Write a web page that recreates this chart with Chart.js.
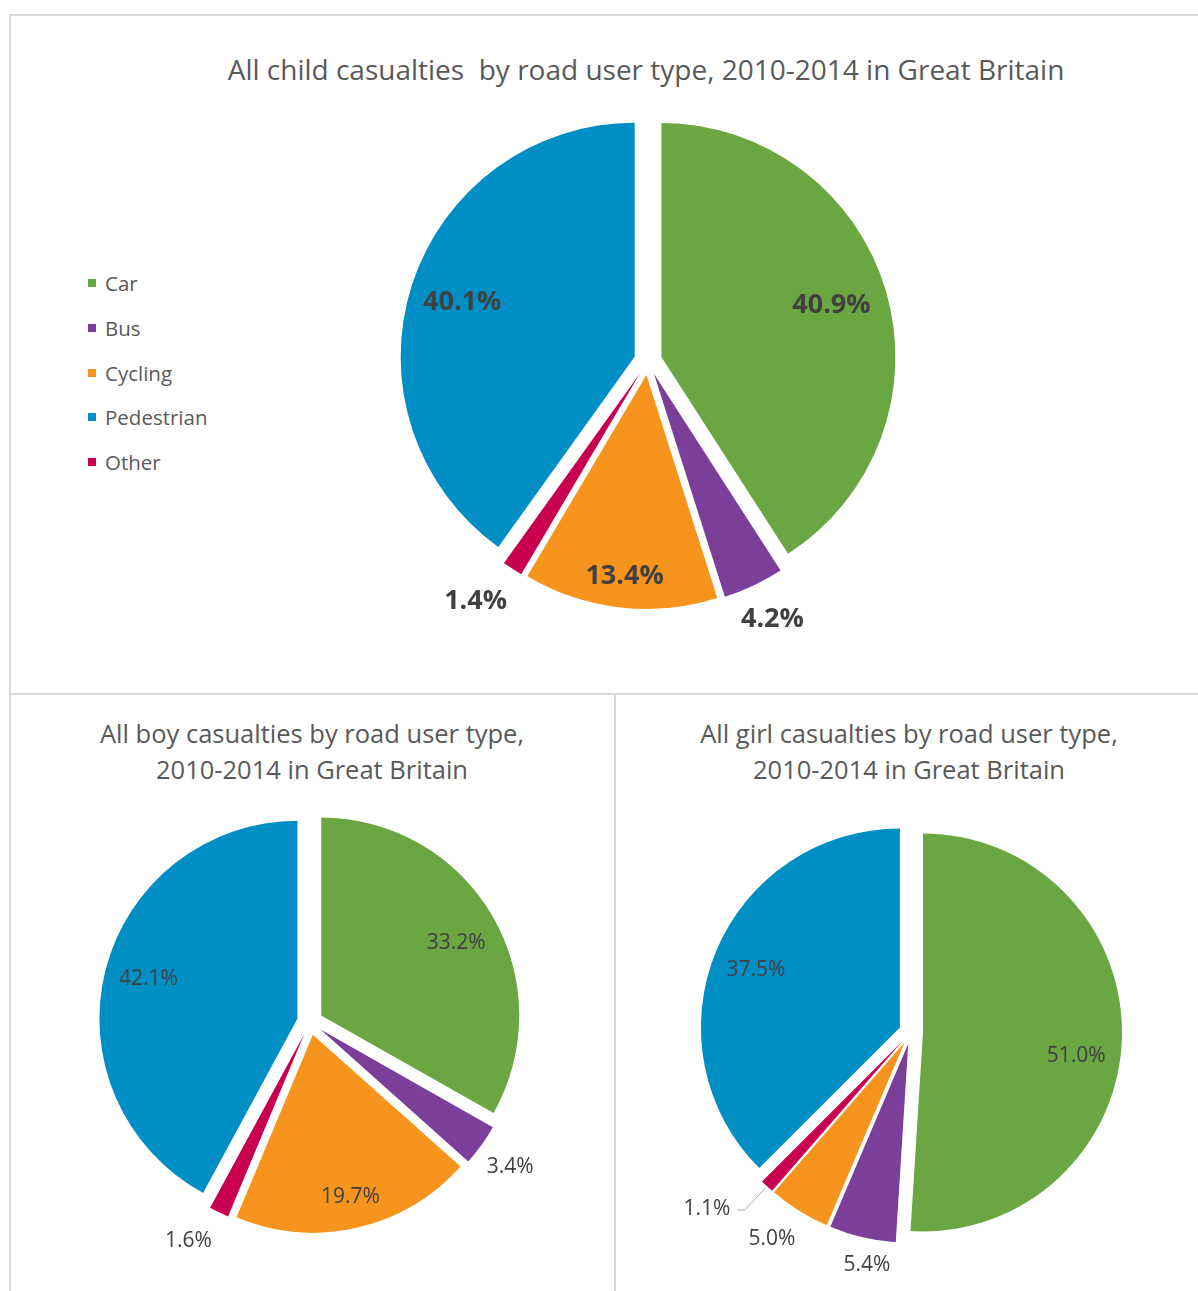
<!DOCTYPE html>
<html>
<head>
<meta charset="utf-8">
<title>Child casualties by road user type</title>
<script src="https://cdn.jsdelivr.net/npm/chart.js@4.4.1/dist/chart.umd.min.js"></script>
<style>
  body { margin: 0; background: #fff; width: 1198px; height: 1291px; position: relative; overflow: hidden; font-family: "Open Sans", sans-serif; }
  .box { position: absolute; border: 2px solid #d9d9d9; box-sizing: border-box; }
  .title { position: absolute; text-align: center; color: #595959; white-space: pre; }
  canvas { position: absolute; }
  .leg { position: absolute; left: 88px; height: 28px; line-height: 28px; font-size: 20.5px; color: #595959; display: flex; align-items: center; }
  .leg i { display: inline-block; width: 8px; height: 8px; margin-right: 9px; }
</style>
</head>
<body>
<div class="box" style="left:9px;top:14px;width:1200px;height:681px"></div>
<div class="box" style="left:9px;top:693px;width:607px;height:620px;border-top:none"></div>

<div class="title" style="left:0;width:1292px;top:50px;font-size:28px;line-height:38px">All child casualties  by road user type, 2010-2014 in Great Britain</div>
<div class="title" style="left:0;width:624px;top:715px;font-size:25.5px;line-height:36px">All boy casualties by road user type,
2010-2014 in Great Britain</div>
<div class="title" style="left:609px;width:600px;top:715px;font-size:25.5px;line-height:36px">All girl casualties by road user type,
2010-2014 in Great Britain</div>

<div id="legend"></div>

<canvas id="allChart" width="660" height="660" style="left:318px;top:31px"></canvas>
<canvas id="boyChart" width="560" height="560" style="left:30px;top:742px"></canvas>
<canvas id="girlChart" width="580" height="580" style="left:621px;top:742px"></canvas>

<script>
// slices, clockwise from 12 o'clock
const categories = ['Car', 'Bus', 'Cycling', 'Other', 'Pedestrian'];
const allChildren = [40.9, 4.2, 13.4, 1.4, 40.1];
const boys = [33.2, 3.4, 19.7, 1.6, 42.1];
const girls = [51.0, 5.4, 5.0, 1.1, 37.5];
const legendOrder = ['Car', 'Bus', 'Cycling', 'Pedestrian', 'Other'];

const colours = {
  Car: '#6aa642',
  Bus: '#7b3f99',
  Cycling: '#f7941d',
  Pedestrian: '#008fc5',
  Other: '#c8004f'
};

// legend
const legend = document.getElementById('legend');
legendOrder.forEach((name, i) => {
  const row = document.createElement('div');
  row.className = 'leg';
  row.style.top = (269 + i * 44.8) + 'px';
  row.innerHTML = `<i style="background:${colours[name]}"></i>${name}`;
  legend.appendChild(row);
});

// every slice pulled out from the centre
const explode = {
  id: 'explode',
  beforeDatasetDraw(chart, args, opts) {
    const ctx = chart.ctx;
    args.meta.data.forEach(arc => {
      const mid = (arc.startAngle + arc.endAngle) / 2;
      ctx.save();
      ctx.translate(Math.cos(mid) * opts.distance, Math.sin(mid) * opts.distance);
      arc.draw(ctx);
      ctx.restore();
    });
    return false;
  }
};

// percentage labels
const sliceLabels = {
  id: 'sliceLabels',
  afterDatasetsDraw(chart, args, opts) {
    const ctx = chart.ctx;
    const meta = chart.getDatasetMeta(0);
    const values = chart.data.datasets[0].data;
    ctx.save();
    ctx.font = opts.font;
    ctx.fillStyle = '#404040';
    ctx.textAlign = 'center';
    ctx.textBaseline = 'alphabetic';
    meta.data.forEach((arc, i) => {
      const k = opts.place[i][0];
      const nudge = opts.place[i][1] * Math.PI / 180;
      const mid = (arc.startAngle + arc.endAngle) / 2;
      const a = mid + nudge;
      const x = arc.x + Math.cos(a) * arc.outerRadius * k;
      const y = arc.y + Math.sin(a) * arc.outerRadius * k;
      const text = values[i].toFixed(1) + '%';
      ctx.fillText(text, x, y + opts.size * 0.357);
      if (opts.leader && opts.leader[i]) {
        const r0 = arc.outerRadius + opts.distance + 2;
        const r1 = arc.outerRadius * opts.leader[i];
        const ex = arc.x + Math.cos(mid) * r1, ey = arc.y + Math.sin(mid) * r1;
        const w = ctx.measureText(text).width;
        ctx.beginPath();
        ctx.moveTo(arc.x + Math.cos(mid) * r0, arc.y + Math.sin(mid) * r0);
        ctx.lineTo(ex, ey);
        ctx.lineTo(x + w / 2 + 7, ey);
        ctx.strokeStyle = '#a6a6a6';
        ctx.lineWidth = 1;
        ctx.stroke();
      }
    });
    ctx.restore();
  }
};

function makePie(id, values, radius, distance, labelOpts) {
  return new Chart(document.getElementById(id), {
    type: 'pie',
    data: {
      labels: categories,
      datasets: [{
        data: values,
        backgroundColor: categories.map(c => colours[c]),
        borderWidth: 0,
        radius: radius
      }]
    },
    options: {
      responsive: false,
      animation: false,
      events: [],
      layout: { padding: 0 },
      plugins: {
        legend: { display: false },
        tooltip: { enabled: false },
        explode: { distance: distance },
        sliceLabels: Object.assign({ distance: distance }, labelOpts)
      }
    },
    plugins: [explode, sliceLabels]
  });
}

makePie('allChart', allChildren, 234, 14, {
  font: 'bold 27px "Open Sans"', size: 27,
  place: [[0.822, -1.1], [1.217, -0.7], [0.916, -0.2], [1.256, 2.8], [0.835, 0.2]]
});

makePie('boyChart', boys, 198, 13, {
  font: '21px "Open Sans"', size: 21,
  place: [[0.843, 1.4], [1.244, 0], [0.9, -0.3], [1.259, 3.6], [0.847, 1.2]]
});

makePie('girlChart', girls, 199, 12, {
  font: '21px "Open Sans"', size: 21,
  place: [[0.837, 5.8], [1.182, -2.5], [1.249, 2], [1.354, 6.2], [0.843, -0.1]],
  leader: [0, 0, 0, 1.224, 0]
});
</script>
</body>
</html>
